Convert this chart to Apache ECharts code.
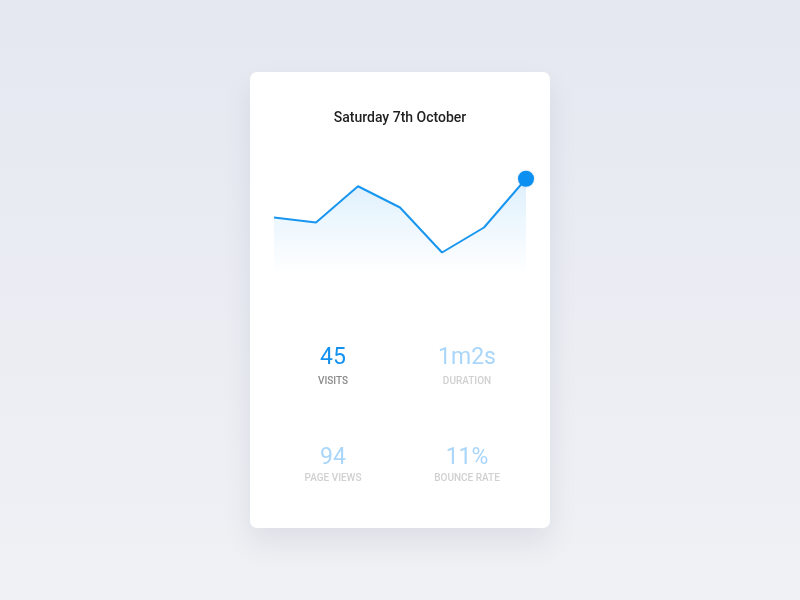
<!DOCTYPE html>
<html>
<head>
<meta charset="utf-8">
<style>
  html, body { margin: 0; padding: 0; }
  #chart { width: 800px; height: 600px; }
</style>
<script src="https://cdn.jsdelivr.net/npm/echarts@6/dist/echarts.min.js"></script>
</head>
<body>
<div id="chart"></div>
<script>
// day series, one value per point
const days = ['1', '2', '3', '4', '5', '6', '7'];
const visits = [46, 42, 71, 54, 18, 38, 77];

const titleText = 'Saturday 7th October';
const statValues = ['45', '1m2s', '94', '11%'];
const statLabels = ['VISITS', 'DURATION', 'PAGE VIEWS', 'BOUNCE RATE'];

const chart = echarts.init(document.getElementById('chart'));

// [x, value y, label y]
const statPos = [[333, 358, 381], [467, 358, 381], [333, 458, 478], [467, 458, 478]];
let statGraphics = [];
for (let i = 0; i < statValues.length; i++) {
  let active = i === 0;
  statGraphics.push({
    type: 'text',
    x: statPos[i][0], y: statPos[i][1],
    style: {
      text: statValues[i],
      fontFamily: 'Roboto', fontSize: 23, fontWeight: 400,
      fill: active ? '#1592ef' : '#a9d6fa',
      align: 'center', verticalAlign: 'middle',
    },
  });
  statGraphics.push({
    type: 'text',
    x: statPos[i][0], y: statPos[i][2],
    style: {
      text: statLabels[i],
      fontFamily: 'Roboto', fontSize: 10, fontWeight: 500,
      fill: active ? '#8a8a8a' : '#d0d0d0',
      align: 'center', verticalAlign: 'middle',
    },
  });
}

chart.setOption({
  animation: false,
  backgroundColor: new echarts.graphic.LinearGradient(0, 0, 0, 1, [
    { offset: 0, color: '#e5e8f0' },
    { offset: 1, color: '#eff1f5' },
  ]),
  graphic: [
    {
      type: 'rect',
      z: -10,
      shape: { x: 250, y: 72, width: 300, height: 456, r: 7 },
      style: {
        fill: '#ffffff',
        shadowBlur: 30,
        shadowOffsetY: 14,
        shadowColor: 'rgba(20, 30, 60, 0.08)',
      },
    },
    {
      type: 'text',
      x: 400, y: 118,
      style: {
        text: titleText,
        fontFamily: 'Roboto', fontSize: 14, fontWeight: 500,
        fill: '#1f1f1f',
        align: 'center', verticalAlign: 'middle',
      },
    },
  ].concat(statGraphics),
  grid: {
    left: 274,
    right: 274,
    top: 150,
    bottom: 325,
  },
  xAxis: {
    type: 'category',
    boundaryGap: false,
    data: days,
    show: false,
  },
  yAxis: {
    type: 'value',
    min: 0,
    max: 100,
    show: false,
  },
  series: [
    {
      type: 'line',
      data: visits,
      symbol: 'none',
      silent: true,
      lineStyle: { color: '#1896ef', width: 2 },
      areaStyle: {
        color: new echarts.graphic.LinearGradient(0, 0, 0, 1, [
          { offset: 0, color: 'rgba(24, 150, 239, 0.22)' },
          { offset: 0.3, color: 'rgba(24, 150, 239, 0.14)' },
          { offset: 1, color: 'rgba(24, 150, 239, 0)' },
        ]),
      },
    },
    {
      type: 'scatter',
      data: [[days.length - 1, visits[visits.length - 1]]],
      symbolSize: 16,
      silent: true,
      itemStyle: {
        color: '#0b8ff0',
        opacity: 1,
        shadowBlur: 3,
        shadowColor: 'rgba(0, 80, 160, 0.2)',
      },
      z: 5,
    },
  ],
});
</script>
</body>
</html>
